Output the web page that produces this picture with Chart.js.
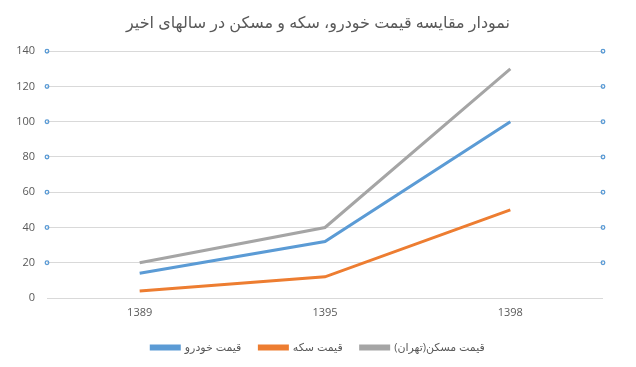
<!DOCTYPE html>
<html>
<head>
<meta charset="utf-8">
<script src="https://cdn.jsdelivr.net/npm/chart.js@4/dist/chart.umd.min.js"></script>
<style>
    html, body { margin: 0; padding: 0; background: #fff; }
    #wrap { width: 636px; height: 367px; position: relative; }
</style>
</head>
<body>
<div id="wrap"><canvas id="priceChart"></canvas></div>
<script>
const years = ['1389', '1395', '1398'];
const carPrice = [14, 32, 100];
const coinPrice = [4, 12, 50];
const housePrice = [20, 40, 130];
const seriesNames = ['قیمت خودرو', 'قیمت سکه', 'قیمت مسکن(تهران)'];
const chartTitle = 'نمودار مقایسه قیمت خودرو، سکه و مسکن در سالهای اخیر';

const FONT = '"Open Sans", "DejaVu Sans", sans-serif';
const TEXT = '#595959';

// little hollow circles at both ends of each gridline, as in the picture
const edgeDots = {
    id: 'edgeDots',
    afterDraw(chart) {
        const { ctx, chartArea } = chart;
        const y = chart.scales.y;
        ctx.save();
        ctx.strokeStyle = '#5b9bd5';
        ctx.lineWidth = 1.3;
        y.ticks.forEach((tick) => {
            if (tick.value === 0) return;
            const py = y.getPixelForValue(tick.value);
            [chartArea.left, chartArea.right].forEach((px) => {
                ctx.beginPath();
                ctx.arc(px, py, 1.8, 0, Math.PI * 2);
                ctx.stroke();
            });
        });
        ctx.restore();
    }
};

function lineSet(label, data, color) {
    return {
        label,
        data,
        borderColor: color,
        backgroundColor: color,
        borderWidth: 3,
        pointRadius: 0,
        tension: 0,
        fill: false
    };
}

new Chart(document.getElementById('priceChart'), {
    type: 'line',
    data: {
        labels: years,
        datasets: [
            lineSet(seriesNames[0], carPrice, '#5b9bd5'),
            lineSet(seriesNames[1], coinPrice, '#ed7d31'),
            lineSet(seriesNames[2], housePrice, '#a5a5a5')
        ]
    },
    options: {
        responsive: true,
        maintainAspectRatio: false,
        animation: false,
        layout: { padding: { left: 0, right: 0, top: 0, bottom: 4 } },
        plugins: {
            title: {
                display: true,
                text: chartTitle,
                color: TEXT,
                font: { family: FONT, size: 16, weight: 'normal' },
                padding: { top: 14, bottom: 18 }
            },
            legend: {
                position: 'bottom',
                labels: {
                    color: TEXT,
                    font: { family: FONT, size: 11 },
                    boxWidth: 28,
                    boxHeight: 3,
                    padding: 18
                }
            },
            tooltip: { enabled: false }
        },
        scales: {
            x: {
                offset: true,
                grid: { display: false },
                border: { display: false },
                ticks: { color: TEXT, font: { family: FONT, size: 11 }, padding: 0 },
                afterFit(scale) { scale.height = 26; }
            },
            y: {
                min: 0,
                max: 140,
                ticks: { stepSize: 20, color: TEXT, font: { family: FONT, size: 11 }, padding: 12 },
                grid: { color: '#d9d9d9', lineWidth: 1, drawTicks: false },
                border: { display: false },
                afterFit(scale) { scale.width = 47; }
            },
            // empty right axis, only keeps the blank margin on the right
            yRight: {
                position: 'right',
                min: 0,
                max: 140,
                ticks: { display: false },
                grid: { display: false },
                border: { display: false },
                afterFit(scale) { scale.width = 33; }
            }
        }
    },
    plugins: [edgeDots]
});
</script>
</body>
</html>
